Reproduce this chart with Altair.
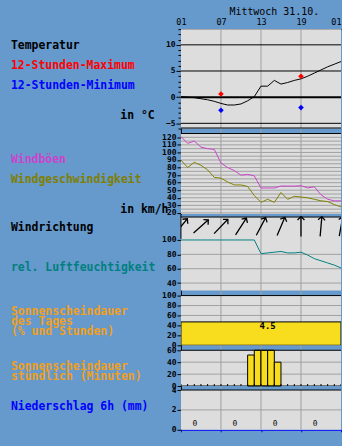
import altair as alt
import pandas as pd

# ---------------- data ----------------
day_title = "Mittwoch 31.10."
hours = list(range(1, 26))
temperature = [0.1, 0.0, -0.1, -0.3, -0.5, -0.8, -1.2, -1.5, -1.5, -1.3, -0.7, 0.1,
               2.1, 2.1, 3.2, 2.5, 2.8, 3.2, 3.5, 4.0, 4.6, 5.2, 5.8, 6.3, 6.8]
ext_hours = [7, 19]
temp_max = [0.6, 4.0]
temp_min = [-2.5, -2.0]
gusts = [121, 112, 115, 107, 105, 104, 86, 80, 76, 70, 71, 69, 53, 53, 53,
         55.5, 55.5, 55.5, 56, 53, 54.5, 44, 38, 36, 36]
wind = [90, 80, 87, 83, 77, 67, 66, 61, 57, 57, 55, 43, 34, 38, 34, 47, 38, 42,
        41, 40, 38, 36, 35, 31, 28]
dir_hours = [1, 4, 7, 10, 13, 16, 19, 22, 25]
dir_angle = [40, 48, 44, 33, 28, 23, 0, 5, 10]
humidity = [100, 100, 100, 100, 100, 100, 100, 100, 100, 100, 100, 100,
            81, 82, 83, 84, 82, 82, 83, 79, 74, 71, 68, 65, 61]
sun_day_percent = [47]
sun_day_hours = [4.5]
sun_hour_start = [11, 12, 13, 14, 15]
sun_minutes = [52, 60, 60, 60, 40]
precip_start = [1, 7, 13, 19]
precip_mm = [0, 0, 0, 0]
x_tick_hours = [1, 7, 13, 19, 25]
grid_hours = [7, 13, 19]

# ---------------- style ----------------
MONO = "DejaVu Sans Mono"
BG = "#6699CC"
PANEL = "#DDDDDD"
GRID = "#A0A0A0"
RED = "#FF0000"
BLUE = "#0000FF"
MAG = "#CC44CC"
OLIVE = "#808000"
TEAL = "#008080"
ORANGE = "#F0A020"
YELLOW = "#F8DC1E"
W = 161

xs = alt.Scale(domain=[1, 25], nice=False, zero=False)
one = pd.DataFrame({"k": [0]})


def yscale(lo, hi, data_h, gap):
    return alt.Scale(domain=[lo, hi + (hi - lo) * gap / data_h], nice=False, zero=False)


def yaxis(values, **kw):
    base = dict(values=values, title="", grid=False, domainColor="black", domainWidth=1,
                tickColor="black", tickSize=4, labelFont=MONO, labelFontSize=8,
                labelFontWeight="bold", labelColor="black", labelPadding=1,
                labelOverlap=False)
    base.update(kw)
    return alt.Axis(**base)


class P:
    """Helpers bound to one panel: the same scale and axis objects on every layer."""

    def __init__(self, ys, ya=None, xa=None):
        self.ys, self.ya, self.xa = ys, ya, xa

    def X(self, field):
        return alt.X(field, type="quantitative", scale=xs, axis=self.xa)

    def XD(self, v):
        return alt.XDatum(v, type="quantitative", scale=xs, axis=self.xa)

    def Y(self, field):
        return alt.Y(field, type="quantitative", scale=self.ys, axis=self.ya)

    def YD(self, v):
        return alt.YDatum(v, type="quantitative", scale=self.ys, axis=self.ya)

    def background(self, lo, hi):
        return alt.Chart(one).mark_rect(fill=PANEL).encode(
            x=self.XD(1), x2=alt.X2Datum(25), y=self.YD(lo), y2=alt.Y2Datum(hi))

    def hgrid(self, values, color=GRID, width=1):
        return alt.Chart(pd.DataFrame({"g": values})).mark_rule(
            color=color, strokeWidth=width, clip=True).encode(y=self.Y("g"))

    def vgrid(self):
        return alt.Chart(pd.DataFrame({"h": grid_hours})).mark_rule(
            color=GRID, strokeWidth=1, clip=True).encode(x=self.X("h"))

    def hline(self, val, color="black", width=1):
        return alt.Chart(one).mark_rule(color=color, strokeWidth=width, clip=True).encode(
            y=self.YD(val))

    def left_line(self):
        return alt.Chart(one).mark_rule(color="black", strokeWidth=1).encode(x=self.XD(1))

    def line(self, df, field, color):
        return alt.Chart(df).mark_line(color=color, strokeWidth=1, clip=True).encode(
            x=self.X("h"), y=self.Y(field))


def label(text, color, ypx, xpx=-171):
    return alt.Chart(one).mark_text(
        text=text, align="left", baseline="middle", font=MONO, fontSize=11.5,
        fontWeight="bold", color=color).encode(x=alt.value(xpx), y=alt.value(ypx))


# ---------------- temperature ----------------
ys_t = alt.Scale(domain=[-6, 13], nice=False, zero=False)
t_df = pd.DataFrame({"h": hours, "t": temperature})
ext_df = pd.DataFrame({"h": ext_hours, "mx": temp_max, "mn": temp_min})
top_axis = alt.Axis(orient="top", values=x_tick_hours, title="", grid=False,
                    labelExpr="(datum.value % 24 < 10 ? '0' : '') + (datum.value % 24)",
                    labelAlign={"condition": {"test": "datum.value >= 25", "value": "right"},
                                "value": "center"},
                    domainColor="black", domainWidth=1, ticks=False, labelFont=MONO,
                    labelFontSize=8.5, labelColor="black", labelPadding=3,
                    labelFlush=False, labelOverlap=False)
temp_axis = yaxis(list(range(-6, 14)),
                  labelExpr="datum.value % 5 == 0 ? datum.label : ''",
                  tickSize={"condition": {"test": "datum.value % 5 == 0", "value": 5}, "value": 3})
pt = P(ys_t, temp_axis, top_axis)
temp_panel = alt.layer(
    pt.background(-6, 13),
    pt.vgrid(),
    pt.hgrid([-5, 5, 10], color="black"),
    pt.hline(0, width=2),
    pt.hline(-6, width=2),
    pt.line(t_df, "t", "black"),
    alt.Chart(ext_df).mark_point(shape="diamond", filled=True, size=32, color=RED,
                                 opacity=1).encode(x=pt.X("h"), y=pt.Y("mx")),
    alt.Chart(ext_df).mark_point(shape="diamond", filled=True, size=32, color=BLUE,
                                 opacity=1).encode(x=pt.X("h"), y=pt.Y("mn")),
    alt.Chart(one).mark_text(text=day_title, font=MONO, fontSize=10, align="center",
                             baseline="middle", color="black").encode(
        x=pt.XD(15), y=alt.value(-17)),
    label("Temperatur", "black", 17),
    label("12-Stunden-Maximum", RED, 37),
    label("12-Stunden-Minimum", BLUE, 57),
    label("in °C", "black", 87, -61),
).properties(width=W, height=100)

# ---------------- wind ----------------
pw = P(yscale(18.5, 125, 81, 5), yaxis(list(range(20, 121, 10))))
w_df = pd.DataFrame({"h": hours, "g": gusts, "w": wind})
wind_panel = alt.layer(
    pw.background(18.5, 125),
    pw.hgrid(list(range(20, 126, 5))),
    pw.vgrid(),
    pw.line(w_df, "g", MAG),
    pw.line(w_df, "w", OLIVE),
    pw.hline(125),
    label("Windböen", MAG, 32),
    label("Windgeschwindigkeit", OLIVE, 52),
    label("in km/h", "black", 82, -61),
).properties(width=W, height=86)

# ---------------- wind direction ----------------
pd_ = P(yscale(0, 1, 22, 3))
d_df = pd.DataFrame({"h": dir_hours, "a": dir_angle})
arrow_path = "M0,1L0,-1M-0.35,-0.65L0,-1L0.35,-0.65"
dir_panel = alt.layer(
    pd_.background(0, 1),
    pd_.vgrid(),
    pd_.left_line(),
    alt.Chart(d_df).mark_point(shape=arrow_path, size=400, filled=False, color="black",
                               strokeWidth=1.3, opacity=1, clip=True).encode(
        x=pd_.X("h"), y=pd_.YD(0.57), angle=alt.Angle("a:Q", scale=None)),
    pd_.hline(1),
    label("Windrichtung", "black", 14),
).properties(width=W, height=25)

# ---------------- humidity ----------------
ph = P(alt.Scale(domain=[29.5, 101.5], nice=False, zero=False), yaxis([40, 60, 80, 100]))
hu_df = pd.DataFrame({"h": hours, "r": humidity})
hum_panel = alt.layer(
    ph.background(29.5, 101.5),
    ph.hgrid([40, 60, 80]),
    ph.vgrid(),
    ph.line(hu_df, "r", TEAL),
    label("rel. Luftfeuchtigkeit", TEAL, 29),
).properties(width=W, height=52)

# ---------------- sunshine per day ----------------
ps = P(yscale(0, 100, 50, 5), yaxis([0, 20, 40, 60, 80, 100]))
sd_df = pd.DataFrame({"p": sun_day_percent, "hrs": sun_day_hours})
sun_panel = alt.layer(
    ps.background(0, 100),
    ps.hgrid([20, 40, 60, 80]),
    ps.vgrid(),
    alt.Chart(sd_df).mark_rect(fill=YELLOW, stroke="black", strokeWidth=1, clip=True).encode(
        x=ps.XD(1), x2=alt.X2Datum(25), y=ps.Y("p"), y2=alt.Y2Datum(0)),
    alt.Chart(sd_df).mark_text(font=MONO, fontSize=9, fontWeight="bold", baseline="top",
                               align="center", color="black").encode(
        x=ps.XD(14), y=ps.Y("p"), text=alt.Text("hrs:Q", format=".1f")),
    ps.hline(100),
    label("Sonnenscheindauer", ORANGE, 22),
    label("des Tages", ORANGE, 32),
    label("(% und Stunden)", ORANGE, 42),
).properties(width=W, height=55)

# ---------------- sunshine per hour ----------------
pho = P(yscale(0, 60, 36, 5), yaxis([0, 20, 40, 60]))
sh_df = pd.DataFrame({"s": sun_hour_start, "m": sun_minutes})
tick_df = pd.DataFrame({"h": hours})
hour_panel = alt.layer(
    pho.background(0, 60),
    pho.hgrid([20, 40]),
    pho.vgrid(),
    alt.Chart(sh_df).transform_calculate(e="datum.s + 1").mark_rect(
        fill=YELLOW, stroke="black", strokeWidth=1).encode(
        x=pho.X("s"), x2="e:Q", y=pho.Y("m"), y2=alt.Y2Datum(0)),
    pho.hline(0),
    alt.Chart(tick_df).mark_tick(orient="vertical", size=4, thickness=1, color="black",
                                 opacity=1, clip=True).encode(x=pho.X("h"), y=pho.YD(0)),
    pho.hline(60),
    label("Sonnenscheindauer", ORANGE, 22),
    label("stündlich (Minuten)", ORANGE, 32),
).properties(width=W, height=41)

# ---------------- precipitation ----------------
bottom_axis = alt.Axis(orient="bottom", values=x_tick_hours, labels=False, title="",
                       grid=False, domainColor=BLUE, tickColor=BLUE, tickSize=2)
pp = P(yscale(0, 4, 40, 4), yaxis([0, 2, 4]), bottom_axis)
p_df = pd.DataFrame({"s": precip_start, "mm": precip_mm})
precip_panel = alt.layer(
    pp.background(0, 4),
    pp.hgrid([2]),
    pp.vgrid(),
    alt.Chart(p_df).transform_calculate(e="datum.s + 6").mark_rect(fill=BLUE).encode(
        x=pp.X("s"), x2="e:Q", y=pp.Y("mm"), y2=alt.Y2Datum(0)),
    alt.Chart(p_df).transform_calculate(mid="datum.s + 3").mark_text(
        font=MONO, fontSize=8, dx=-6, dy=-6, color="black").encode(
        x=pp.X("mid"), y=pp.Y("mm"), text=alt.Text("mm:Q", format="d")),
    pp.hline(4),
    label("Niederschlag 6h (mm)", BLUE, 21),
).properties(width=W, height=44)

chart = alt.vconcat(
    temp_panel, wind_panel, dir_panel, hum_panel, sun_panel, hour_panel, precip_panel,
    spacing=0, bounds="flush",
).properties(
    background=BG,
    padding={"left": 10, "top": 5, "right": 0, "bottom": 10},
).configure_view(stroke="transparent")

chart.save("out.html", embed_options={"renderer": "svg", "actions": False})
